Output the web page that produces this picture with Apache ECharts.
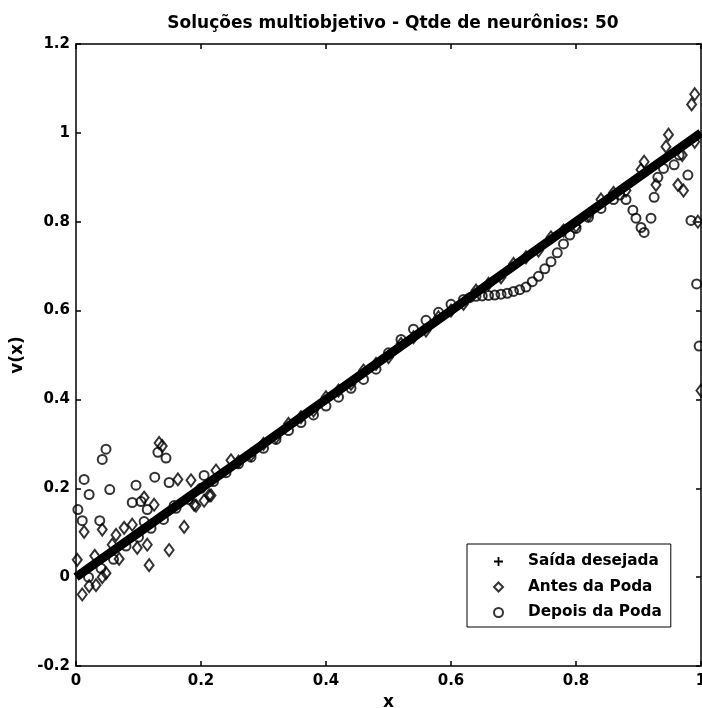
<!DOCTYPE html>
<html>
<head>
<meta charset="utf-8">
<script src="https://cdn.jsdelivr.net/npm/echarts@6/dist/echarts.min.js"></script>
<style>
html,body{margin:0;padding:0;background:#fff;}
#chart{width:702px;height:708px;}
</style>
</head>
<body>
<div id="chart"></div>
<script>
// Saída desejada (linha grossa)
var saidaX = [0, 0.05, 0.1, 0.15, 0.2, 0.25, 0.3, 0.35, 0.4, 0.45, 0.5, 0.55, 0.6, 0.65, 0.7, 0.75, 0.8, 0.85, 0.9, 0.95, 1];
var saidaY = [0, 0.05, 0.1, 0.15, 0.2, 0.25, 0.3, 0.35, 0.4, 0.45, 0.5, 0.55, 0.6, 0.65, 0.7, 0.75, 0.8, 0.85, 0.9, 0.95, 1];

// Antes da Poda (losangos)
var antesX = [0.002, 0.010, 0.013, 0.021, 0.030, 0.032, 0.042, 0.042, 0.048, 0.058, 0.064, 0.069, 0.077, 0.090, 0.098, 0.109, 0.114, 0.117, 0.125, 0.133, 0.138, 0.149, 0.163, 0.173, 0.184, 0.189, 0.192, 0.205, 0.213, 0.216, 0.224, 0.248,
  0.26, 0.28, 0.30, 0.32, 0.34, 0.36, 0.38, 0.40, 0.42, 0.44, 0.46, 0.48, 0.50, 0.52, 0.54, 0.56, 0.58, 0.60, 0.62, 0.64, 0.66, 0.68, 0.70, 0.72, 0.74, 0.76, 0.78, 0.80, 0.82, 0.84, 0.86,
  0.88, 0.904, 0.909, 0.928, 0.944, 0.948, 0.963, 0.972, 0.985, 0.99, 0.995, 1.0, 0.97, 0.99];
var antesY = [0.039, -0.039, 0.102, -0.020, 0.048, -0.018, 0.107, 0.000, 0.009, 0.073, 0.095, 0.041, 0.111, 0.118, 0.066, 0.179, 0.073, 0.027, 0.163, 0.302, 0.295, 0.061, 0.220, 0.113, 0.218, 0.163, 0.161, 0.172, 0.184, 0.184, 0.240, 0.263,
  0.26, 0.275, 0.30, 0.315, 0.345, 0.36, 0.375, 0.405, 0.42, 0.435, 0.465, 0.48, 0.495, 0.525, 0.54, 0.555, 0.585, 0.60, 0.615, 0.645, 0.66, 0.675, 0.705, 0.72, 0.735, 0.765, 0.78, 0.79, 0.815, 0.85, 0.865,
  0.87, 0.917, 0.935, 0.883, 0.969, 0.996, 0.883, 0.87, 1.064, 1.087, 0.80, 0.42, 0.95, 0.98];

// Depois da Poda (círculos)
var depoisX = [0.003, 0.010, 0.013, 0.021, 0.038, 0.042, 0.048, 0.054, 0.090, 0.096, 0.104, 0.109, 0.114, 0.126, 0.131, 0.144, 0.149, 0.157, 0.205,
  0.02, 0.04, 0.06, 0.08, 0.10, 0.12, 0.14, 0.16, 0.18, 0.20,
  0.22, 0.24, 0.26, 0.28, 0.30, 0.32, 0.34, 0.36, 0.38, 0.40, 0.42, 0.44, 0.46, 0.48, 0.50, 0.52, 0.54, 0.56, 0.58, 0.60, 0.62,
  0.63, 0.64, 0.65, 0.66, 0.67, 0.68, 0.69, 0.70, 0.71, 0.72, 0.73, 0.74, 0.75, 0.76, 0.77, 0.78, 0.79, 0.80,
  0.82, 0.84, 0.86, 0.87, 0.88, 0.891, 0.896, 0.904, 0.909, 0.92, 0.925, 0.931, 0.94, 0.957, 0.965, 0.979, 0.984, 0.993, 0.997];
var depoisY = [0.152, 0.127, 0.220, 0.186, 0.127, 0.265, 0.288, 0.197, 0.168, 0.207, 0.170, 0.125, 0.152, 0.225, 0.281, 0.268, 0.213, 0.161, 0.229,
  0.0, 0.02, 0.04, 0.07, 0.09, 0.11, 0.13, 0.155, 0.175, 0.2,
  0.215, 0.235, 0.255, 0.27, 0.29, 0.31, 0.33, 0.348, 0.365, 0.385, 0.405, 0.425, 0.445, 0.468, 0.505, 0.535, 0.558, 0.578, 0.596, 0.614, 0.625,
  0.629, 0.632, 0.633, 0.634, 0.635, 0.637, 0.639, 0.643, 0.647, 0.653, 0.665, 0.677, 0.694, 0.71, 0.73, 0.75, 0.77, 0.785,
  0.81, 0.83, 0.85, 0.86, 0.85, 0.826, 0.808, 0.787, 0.776, 0.808, 0.855, 0.90, 0.92, 0.928, 0.95, 0.905, 0.803, 0.66, 0.52];

var titulo = 'Soluções multiobjetivo - Qtde de neurônios: 50';
var nomes = ['Saída desejada', 'Antes da Poda', 'Depois da Poda'];

function pares(xs, ys){
  var out = [];
  for(var i = 0; i < xs.length; i++){ out.push([xs[i], ys[i]]); }
  return out;
}

var fonte = 'DejaVu Sans, Arial, sans-serif';
var plusIcon = 'path://M4,0 L6,0 L6,4 L10,4 L10,6 L6,6 L6,10 L4,10 L4,6 L0,6 L0,4 L4,4 Z';
var eixo = {color: '#000', width: 1.5};

var chart = echarts.init(document.getElementById('chart'));
chart.setOption({
  animation: false,
  backgroundColor: '#fff',
  title: {
    text: titulo,
    left: 388,
    top: 10,
    textAlign: 'center',
    textStyle: {fontFamily: fonte, fontWeight: 'bold', fontSize: 17, color: '#000'}
  },
  grid: {left: 76, right: 1, top: 44, bottom: 42, outerBoundsMode: 'none'},
  legend: {
    orient: 'vertical',
    left: 467,
    top: 544,
    backgroundColor: '#fff',
    borderColor: '#000',
    borderWidth: 1,
    padding: [9, 9, 6, 26],
    itemGap: 8.5,
    itemWidth: 9,
    itemHeight: 9,
    textStyle: {fontFamily: fonte, fontWeight: 'bold', fontSize: 15.3, lineHeight: 17, color: '#000', padding: [0, 0, 0, 20]},
    data: [
      {name: nomes[0], icon: plusIcon, itemStyle: {color: '#000', borderWidth: 0}},
      {name: nomes[1], icon: 'diamond', itemStyle: {color: '#fff', borderColor: '#000', borderWidth: 2}},
      {name: nomes[2], icon: 'circle', itemStyle: {color: '#fff', borderColor: '#000', borderWidth: 2}}
    ]
  },
  xAxis: [{
    type: 'value', min: 0, max: 1, interval: 0.2,
    name: 'x', nameLocation: 'middle', nameGap: 25,
    nameTextStyle: {fontFamily: fonte, fontWeight: 'bold', fontSize: 17, color: '#000'},
    axisLine: {onZero: false, lineStyle: eixo},
    axisTick: {inside: true, length: 5, lineStyle: eixo},
    axisLabel: {fontFamily: fonte, fontWeight: 'bold', fontSize: 15, color: '#000', margin: 8},
    splitLine: {show: false}
  }, {
    type: 'value', min: 0, max: 1, interval: 0.2, position: 'top',
    axisLine: {onZero: false, lineStyle: eixo},
    axisTick: {inside: true, length: 5, lineStyle: eixo},
    axisLabel: {show: false},
    splitLine: {show: false}
  }],
  yAxis: [{
    type: 'value', min: -0.2, max: 1.2, interval: 0.2,
    name: 'v(x)', nameLocation: 'middle', nameGap: 38, nameRotate: 90,
    nameTextStyle: {fontFamily: fonte, fontWeight: 'bold', fontSize: 17, color: '#000'},
    axisLine: {onZero: false, lineStyle: eixo},
    axisTick: {inside: true, length: 5, lineStyle: eixo},
    axisLabel: {fontFamily: fonte, fontWeight: 'bold', fontSize: 15, color: '#000', margin: 6,
      formatter: function(v){ return String(Math.round(v * 10) / 10); }},
    splitLine: {show: false}
  }, {
    type: 'value', min: -0.2, max: 1.2, interval: 0.2, position: 'right',
    axisLine: {onZero: false, lineStyle: eixo},
    axisTick: {inside: true, length: 5, lineStyle: eixo},
    axisLabel: {show: false},
    splitLine: {show: false}
  }],
  series: [{
    name: nomes[1],
    type: 'scatter',
    symbol: 'diamond',
    symbolSize: [9, 12],
    itemStyle: {color: 'rgba(255,255,255,0)', borderColor: '#000', borderWidth: 2},
    data: pares(antesX, antesY),
    z: 3
  }, {
    name: nomes[2],
    type: 'scatter',
    symbol: 'circle',
    symbolSize: 9,
    itemStyle: {color: 'rgba(255,255,255,0)', borderColor: '#000', borderWidth: 2},
    data: pares(depoisX, depoisY),
    z: 3
  }, {
    name: nomes[0],
    type: 'line',
    showSymbol: false,
    symbol: 'none',
    lineStyle: {color: '#000', width: 9},
    itemStyle: {color: '#000'},
    data: pares(saidaX, saidaY),
    z: 4
  }]
});
</script>
</body>
</html>
